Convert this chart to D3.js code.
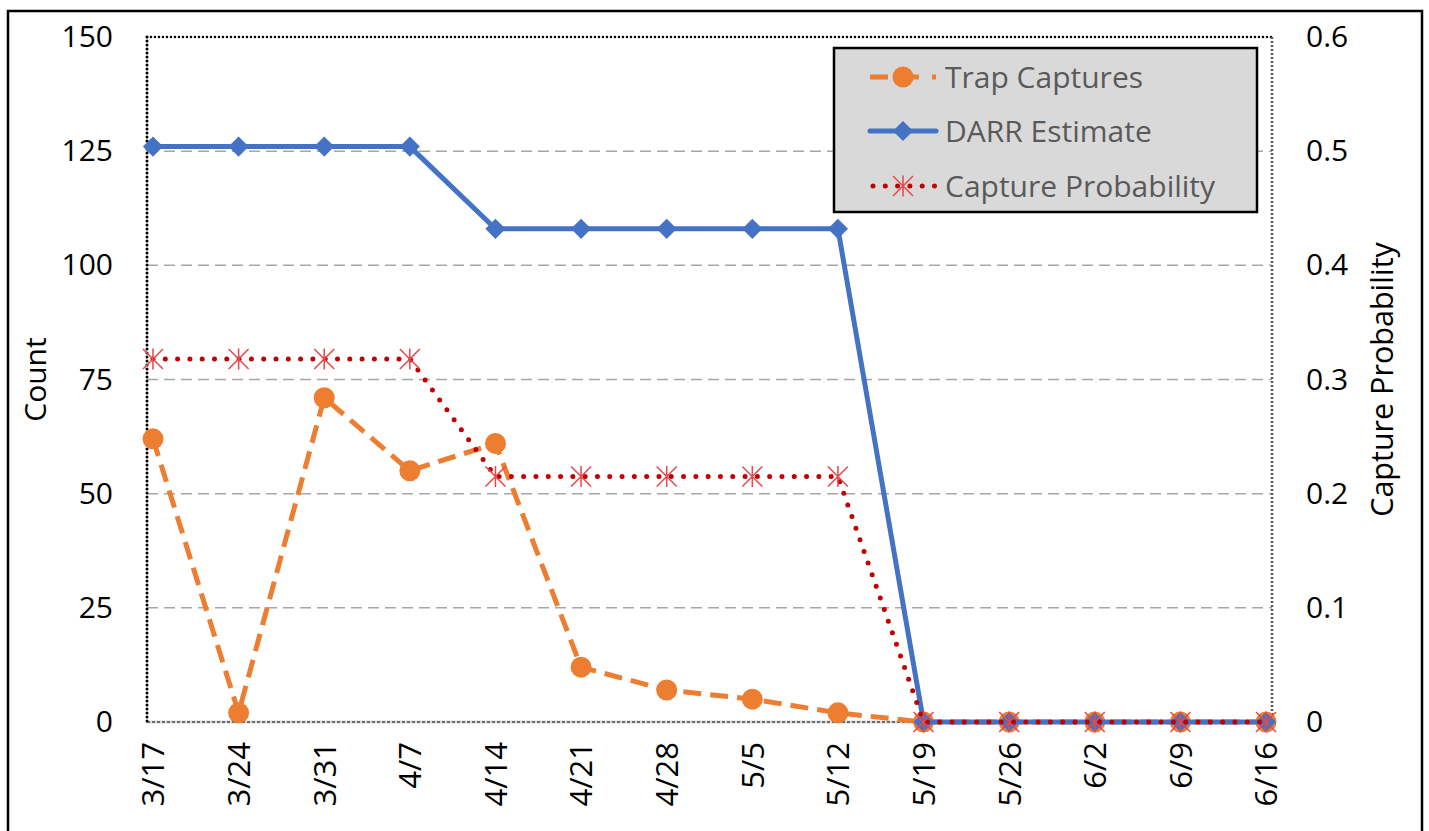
<!DOCTYPE html>
<html>
<head>
<meta charset="utf-8">
<script src="https://cdn.jsdelivr.net/npm/d3@7"></script>
<style>
  body { margin: 0; background: #fff; }
  text { font-family: "Open Sans", sans-serif; }
</style>
</head>
<body>
<div id="vis"></div>
<script>
// data
const dates = ["3/17","3/24","3/31","4/7","4/14","4/21","4/28","5/5","5/12","5/19","5/26","6/2","6/9","6/16"];
const trapCaptures = [62, 2, 71, 55, 61, 12, 7, 5, 2, 0, 0, 0, 0, 0];
const darrEstimate = [126, 126, 126, 126, 108, 108, 108, 108, 108, 0, 0, 0, 0, 0];
const captureProb = [0.318, 0.318, 0.318, 0.318, 0.215, 0.215, 0.215, 0.215, 0.215, 0, 0, 0, 0, 0];
const countTicks = [0, 25, 50, 75, 100, 125, 150];
const probTicks = [0, 0.1, 0.2, 0.3, 0.4, 0.5, 0.6];

const ctx = {
    w: 1429,
    h: 831,
    left: 147,
    right: 1272,
    top: 37,
    bottom: 722,
    orange: "#ed7d31",
    blue: "#4472c4",
    red: "#c00000"
};

const svg = d3.select("#vis").append("svg")
    .attr("width", ctx.w)
    .attr("height", ctx.h);

// outer frame
svg.append("rect")
   .attr("x", 8).attr("y", 11)
   .attr("width", 1414).attr("height", 840)
   .attr("fill", "none")
   .attr("stroke", "#000")
   .attr("stroke-width", 2.5);

const x = d3.scalePoint()
    .domain(dates)
    .range([ctx.left, ctx.right])
    .padding(0.07);

const yL = d3.scaleLinear().domain([0, 150]).range([ctx.bottom, ctx.top]);
const yR = d3.scaleLinear().domain([0, 0.6]).range([ctx.bottom, ctx.top]);

// gridlines
svg.append("g")
   .selectAll("line")
   .data(countTicks.filter(t => t > 0 && t < 150))
   .enter()
   .append("line")
   .attr("x1", ctx.left).attr("x2", ctx.right)
   .attr("y1", d => yL(d)).attr("y2", d => yL(d))
   .attr("stroke", "#a6a6a6")
   .attr("stroke-width", 1.5)
   .attr("stroke-dasharray", "11,6");

// plot area border (dotted)
svg.append("line")
   .attr("x1", ctx.left).attr("x2", ctx.right)
   .attr("y1", ctx.bottom).attr("y2", ctx.bottom)
   .attr("stroke", "#d9d9d9").attr("stroke-width", 3);
svg.append("line")
   .attr("x1", ctx.left).attr("x2", ctx.right)
   .attr("y1", ctx.bottom).attr("y2", ctx.bottom)
   .attr("stroke", "#000").attr("stroke-width", 1.2)
   .attr("stroke-dasharray", "3,2");
svg.append("line")
   .attr("x1", ctx.left).attr("x2", ctx.right)
   .attr("y1", ctx.top).attr("y2", ctx.top)
   .attr("stroke", "#000").attr("stroke-width", 2.5)
   .attr("stroke-dasharray", "0,4").attr("stroke-linecap", "round");
svg.append("line")
   .attr("x1", ctx.left).attr("x2", ctx.left)
   .attr("y1", ctx.top).attr("y2", ctx.bottom)
   .attr("stroke", "#000").attr("stroke-width", 3)
   .attr("stroke-dasharray", "0,4").attr("stroke-linecap", "round");
svg.append("line")
   .attr("x1", ctx.right).attr("x2", ctx.right)
   .attr("y1", ctx.top).attr("y2", ctx.bottom)
   .attr("stroke", "#555").attr("stroke-width", 2.5)
   .attr("stroke-dasharray", "2,2");

// axes
const leftAxis = svg.append("g")
   .attr("transform", `translate(${ctx.left - 34},0)`)
   .call(d3.axisLeft(yL).tickValues(countTicks).tickSize(0).tickPadding(0));
leftAxis.select(".domain").remove();
leftAxis.selectAll("text")
   .style("font-size", "30px")
   .style("font-family", "Open Sans, sans-serif")
   .attr("fill", "#000");

const rightAxis = svg.append("g")
   .attr("transform", `translate(${ctx.right + 34},0)`)
   .call(d3.axisRight(yR).tickValues(probTicks).tickSize(0).tickPadding(0)
           .tickFormat(d => d === 0 ? "0" : d3.format(".1f")(d)));
rightAxis.select(".domain").remove();
rightAxis.selectAll("text")
   .style("font-size", "30px")
   .style("font-family", "Open Sans, sans-serif")
   .attr("fill", "#000");

const xAxis = svg.append("g")
   .attr("transform", `translate(0,${ctx.bottom})`)
   .call(d3.axisBottom(x).tickSize(0).tickPadding(0));
xAxis.select(".domain").remove();
xAxis.selectAll("text")
   .attr("transform", "translate(0,20) rotate(-90)")
   .attr("y", 0)
   .attr("dy", "0.35em")
   .style("text-anchor", "end")
   .style("font-size", "31px")
   .style("font-family", "Open Sans, sans-serif")
   .attr("fill", "#000");

// axis titles
svg.append("text")
   .attr("transform", `translate(35,${(ctx.top + ctx.bottom) / 2}) rotate(-90)`)
   .attr("dy", "0.35em")
   .style("text-anchor", "middle")
   .style("font-size", "30px")
   .text("Count");

svg.append("text")
   .attr("transform", `translate(1382,${(ctx.top + ctx.bottom) / 2}) rotate(-90)`)
   .attr("dy", "0.35em")
   .style("text-anchor", "middle")
   .style("font-size", "30.5px")
   .text("Capture Probability");

// series
const plotG = svg.append("g");

function starPath(cx, cy, r) {
    return `M${cx - r},${cy - r}L${cx + r},${cy + r}M${cx - r},${cy + r}L${cx + r},${cy - r}M${cx},${cy - r * 1.05}L${cx},${cy + r * 1.05}`;
}
const diamond = d3.symbol().type(d3.symbolDiamond2).size(260);

// trap captures
plotG.append("path")
   .datum(trapCaptures)
   .attr("d", d3.line().x((d, i) => x(dates[i])).y(d => yL(d)))
   .attr("fill", "none")
   .attr("stroke", ctx.orange)
   .attr("stroke-width", 5)
   .attr("stroke-dasharray", "18,9");
plotG.selectAll(".tc")
   .data(trapCaptures)
   .enter()
   .append("circle")
   .attr("class", "tc")
   .attr("cx", (d, i) => x(dates[i]))
   .attr("cy", d => yL(d))
   .attr("r", 10.5)
   .attr("fill", ctx.orange);

// DARR estimate
plotG.append("path")
   .datum(darrEstimate)
   .attr("d", d3.line().x((d, i) => x(dates[i])).y(d => yL(d)))
   .attr("fill", "none")
   .attr("stroke", ctx.blue)
   .attr("stroke-width", 5);
plotG.selectAll(".de")
   .data(darrEstimate)
   .enter()
   .append("path")
   .attr("class", "de")
   .attr("d", diamond)
   .attr("transform", (d, i) => `translate(${x(dates[i])},${yL(d)})`)
   .attr("fill", ctx.blue);

// capture probability
plotG.append("path")
   .datum(captureProb)
   .attr("d", d3.line().x((d, i) => x(dates[i])).y(d => yR(d)))
   .attr("fill", "none")
   .attr("stroke", ctx.red)
   .attr("stroke-width", 5)
   .attr("stroke-linecap", "round")
   .attr("stroke-dasharray", "0,12.3");
plotG.selectAll(".cp")
   .data(captureProb)
   .enter()
   .append("path")
   .attr("class", "cp")
   .attr("d", (d, i) => starPath(x(dates[i]), yR(d), 10))
   .attr("stroke", "#e8474a")
   .attr("stroke-width", 1.5)
   .attr("fill", "none");

// legend
const legendItems = ["Trap Captures", "DARR Estimate", "Capture Probability"];
const legend = svg.append("g").attr("transform", "translate(834,48)");
legend.append("rect")
   .attr("width", 423).attr("height", 164)
   .attr("fill", "#d9d9d9")
   .attr("stroke", "#000")
   .attr("stroke-width", 2.5);

const rowY = [29, 83, 138];
legendItems.forEach((name, i) => {
    const g = legend.append("g").attr("transform", `translate(0,${rowY[i]})`);
    if (i === 0) {
        g.append("line").attr("x1", 36).attr("x2", 102)
         .attr("stroke", ctx.orange).attr("stroke-width", 5)
         .attr("stroke-dasharray", "18,13");
        g.append("circle").attr("cx", 69).attr("r", 10.5).attr("fill", ctx.orange);
    } else if (i === 1) {
        g.append("line").attr("x1", 36).attr("x2", 102)
         .attr("stroke", ctx.blue).attr("stroke-width", 5)
         .attr("stroke-linecap", "round");
        g.append("path").attr("d", diamond).attr("transform", "translate(69,0)").attr("fill", ctx.blue);
    } else {
        g.append("line").attr("x1", 39).attr("x2", 102)
         .attr("stroke", ctx.red).attr("stroke-width", 5)
         .attr("stroke-linecap", "round")
         .attr("stroke-dasharray", "0,12.3");
        g.append("path").attr("d", starPath(69, 0, 10))
         .attr("stroke", "#e8474a").attr("stroke-width", 1.5);
    }
    g.append("text")
     .attr("x", 111)
     .attr("dy", "0.35em")
     .style("font-size", "30px")
     .attr("fill", "#595959")
     .text(name);
});
</script>
</body>
</html>
